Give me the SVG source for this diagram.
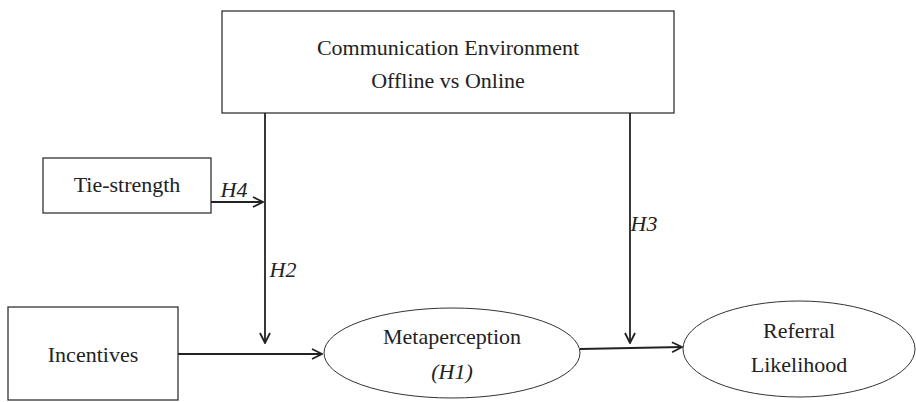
<svg xmlns="http://www.w3.org/2000/svg" width="916" height="402" viewBox="0 0 916 402">
<style>
.box{fill:#fff;stroke:#333;stroke-width:1.3}
.ell{fill:#fff;stroke:#333;stroke-width:1}
.t{font-family:"Liberation Serif","Times New Roman",serif;font-size:22px;fill:#222;text-anchor:middle}
.i{font-style:italic}
.c{fill:none;stroke:#222;stroke-width:1.8}
</style>
<defs>
<marker id="a" viewBox="0 0 12 12" refX="11" refY="6" markerWidth="12" markerHeight="12" markerUnits="userSpaceOnUse" orient="auto">
<path d="M1,1 L11,6 L1,11" fill="none" stroke="#222" stroke-width="1.8"/>
</marker>
</defs>
<g id="env">
<rect class="box" x="222" y="11" width="452" height="102"/>
<text class="t" x="448" y="55">Communication Environment</text>
<text class="t" x="448" y="88">Offline vs Online</text>
</g>
<g id="tie">
<rect class="box" x="43" y="158" width="168" height="55"/>
<text class="t" x="127" y="192">Tie-strength</text>
</g>
<g id="inc">
<rect class="box" x="8" y="307" width="170" height="93"/>
<text class="t" x="93" y="362">Incentives</text>
</g>
<g id="meta">
<ellipse class="ell" cx="452" cy="353" rx="128" ry="45"/>
<text class="t" x="452" y="344">Metaperception</text>
<text class="t i" x="452" y="379">(H1)</text>
</g>
<g id="ref">
<ellipse class="ell" cx="799" cy="349" rx="116" ry="48"/>
<text class="t" x="799" y="338">Referral</text>
<text class="t" x="799" y="372">Likelihood</text>
</g>
<g id="connectors">
<line class="c" x1="265" y1="113" x2="265" y2="343" marker-end="url(#a)"/>
<line class="c" x1="630" y1="113" x2="630" y2="343" marker-end="url(#a)"/>
<line class="c" x1="211" y1="202" x2="263" y2="202" marker-end="url(#a)"/>
<line class="c" x1="178" y1="354" x2="322" y2="354" marker-end="url(#a)"/>
<line class="c" x1="580" y1="349" x2="682" y2="347" marker-end="url(#a)"/>
<text class="t i" x="234" y="197">H4</text>
<text class="t i" x="283" y="277">H2</text>
<text class="t i" x="644" y="231">H3</text>
</g>
</svg>
